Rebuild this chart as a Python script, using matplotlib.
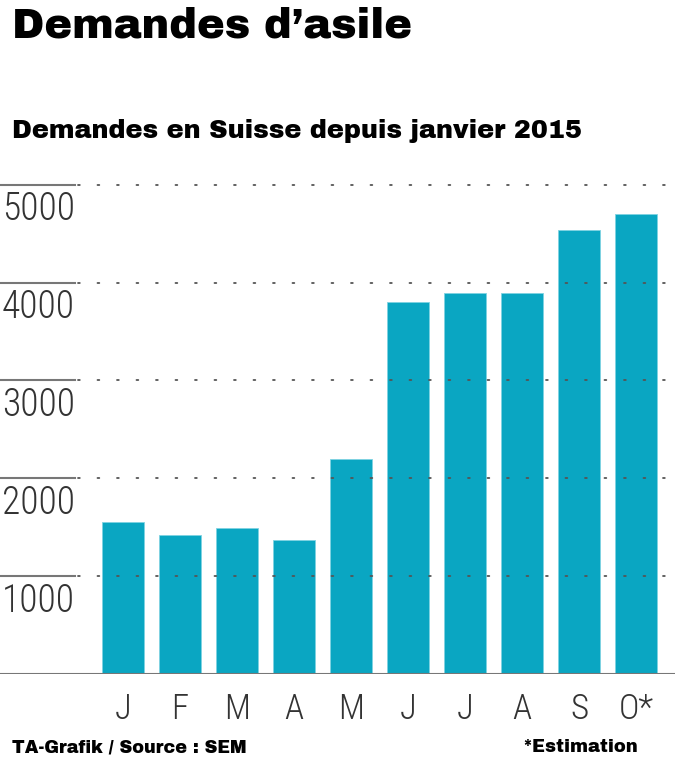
import numpy as np
import matplotlib.pyplot as plt

# data
months = ['J', 'F', 'M', 'A', 'M', 'J', 'J', 'A', 'S', 'O*']
demandes = [1560, 1420, 1490, 1370, 2195, 3800, 3890, 3890, 4535, 4695]
yticks = [1000, 2000, 3000, 4000, 5000]

W, H = 680, 775
fig = plt.figure(figsize=(W / 100, H / 100), dpi=100)

# axes placed in pixel coords (from top)
y_base, y_5000 = 674.3, 184.6
ax = fig.add_axes([0, (H - y_base) / H, 675 / W, (y_base - y_5000) / H])
ax.set_ylim(0, 5000)
ax.set_xlim(-123 / 57, (675 - 123) / 57)
ax.axis('off')

x = np.arange(len(months))
ax.bar(x, demandes, width=0.72, color='#0aa6c2', edgecolor='#7fd3e2',
       linewidth=0.6, zorder=2)

num_font = ['Roboto Condensed', 'DejaVu Sans']
grey = '#333333'
heavy = ['Archivo Black', 'DejaVu Sans']

solid_end = 75 / 675
for t in [0] + yticks:
    if t == 0:
        ax.axhline(0, color='#777777', lw=1.5, zorder=3)
        continue
    ax.axhline(t, xmin=0, xmax=solid_end, color='#777777', lw=1.5,
               zorder=3, clip_on=False)
    ax.axhline(t, xmin=78 / 675, xmax=1, color='#555555', lw=1.3,
               linestyle=(0, (1, 9.8)), dash_capstyle='round', zorder=3,
               clip_on=False)
    ax.annotate(str(t), xy=(0, t), xycoords=('axes fraction', 'data'),
                xytext=(2, -6), textcoords='offset pixels',
                ha='left', va='top', fontsize=27, color=grey,
                family=num_font, fontweight=300)

for xi, m in zip(x, months):
    ax.annotate(m, xy=(xi, 0), xycoords='data', xytext=(0, -18),
                textcoords='offset pixels', ha='center', va='top',
                fontsize=25, color=grey, family=num_font, fontweight=300)

fig.text(12 / W, 1 - 26 / H, 'Demandes d\u2019asile', fontsize=30,
         family=heavy, va='center', ha='left')
fig.text(12 / W, 1 - 131 / H, 'Demandes en Suisse depuis janvier 2015',
         fontsize=18.4, family=heavy, va='center', ha='left')
fig.text(12 / W, 1 - 748 / H, 'TA-Grafik / Source : SEM', fontsize=12.7,
         family=heavy, va='center', ha='left')
fig.text(522 / W, 1 - 748 / H, '*Estimation', fontsize=12.9,
         family=heavy, va='center', ha='left')

fig.savefig('out.png', dpi=100, facecolor='white')
